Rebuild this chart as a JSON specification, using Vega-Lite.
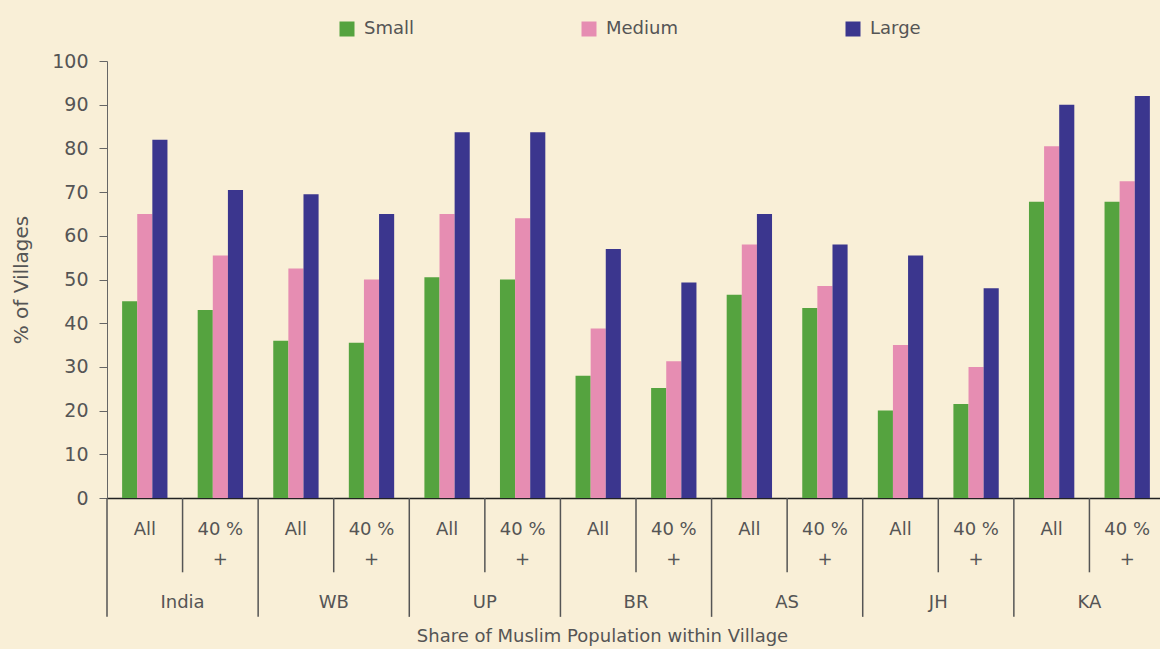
{
  "$schema": "https://vega.github.io/schema/vega-lite/v6.json",
  "autosize": "none",
  "padding": {"left": 107, "top": 61, "right": 0, "bottom": 151},
  "width": 1058,
  "height": 437,
  "background": "#f9efd7",
  "config": {
    "view": {"stroke": null},
    "axis": {"labelColor": "#555555", "titleColor": "#555555", "labelFont": "DejaVu Sans", "titleFont": "DejaVu Sans", "titleFontWeight": "normal"},
    "legend": {"labelColor": "#555555", "labelFont": "DejaVu Sans"}
  },
  "data": {
    "values": [
      {"state": "India", "grp": "India|All", "share": "All", "size": "Small", "value": 45},
      {"state": "India", "grp": "India|All", "share": "All", "size": "Medium", "value": 65},
      {"state": "India", "grp": "India|All", "share": "All", "size": "Large", "value": 82},
      {"state": "India", "grp": "India|40", "share": "40 %+", "size": "Small", "value": 43},
      {"state": "India", "grp": "India|40", "share": "40 %+", "size": "Medium", "value": 55.5},
      {"state": "India", "grp": "India|40", "share": "40 %+", "size": "Large", "value": 70.5},
      {"state": "WB", "grp": "WB|All", "share": "All", "size": "Small", "value": 36},
      {"state": "WB", "grp": "WB|All", "share": "All", "size": "Medium", "value": 52.5},
      {"state": "WB", "grp": "WB|All", "share": "All", "size": "Large", "value": 69.5},
      {"state": "WB", "grp": "WB|40", "share": "40 %+", "size": "Small", "value": 35.5},
      {"state": "WB", "grp": "WB|40", "share": "40 %+", "size": "Medium", "value": 50},
      {"state": "WB", "grp": "WB|40", "share": "40 %+", "size": "Large", "value": 65},
      {"state": "UP", "grp": "UP|All", "share": "All", "size": "Small", "value": 50.5},
      {"state": "UP", "grp": "UP|All", "share": "All", "size": "Medium", "value": 65},
      {"state": "UP", "grp": "UP|All", "share": "All", "size": "Large", "value": 83.7},
      {"state": "UP", "grp": "UP|40", "share": "40 %+", "size": "Small", "value": 50},
      {"state": "UP", "grp": "UP|40", "share": "40 %+", "size": "Medium", "value": 64},
      {"state": "UP", "grp": "UP|40", "share": "40 %+", "size": "Large", "value": 83.7},
      {"state": "BR", "grp": "BR|All", "share": "All", "size": "Small", "value": 28},
      {"state": "BR", "grp": "BR|All", "share": "All", "size": "Medium", "value": 38.8},
      {"state": "BR", "grp": "BR|All", "share": "All", "size": "Large", "value": 57},
      {"state": "BR", "grp": "BR|40", "share": "40 %+", "size": "Small", "value": 25.2},
      {"state": "BR", "grp": "BR|40", "share": "40 %+", "size": "Medium", "value": 31.3},
      {"state": "BR", "grp": "BR|40", "share": "40 %+", "size": "Large", "value": 49.3},
      {"state": "AS", "grp": "AS|All", "share": "All", "size": "Small", "value": 46.5},
      {"state": "AS", "grp": "AS|All", "share": "All", "size": "Medium", "value": 58},
      {"state": "AS", "grp": "AS|All", "share": "All", "size": "Large", "value": 65},
      {"state": "AS", "grp": "AS|40", "share": "40 %+", "size": "Small", "value": 43.5},
      {"state": "AS", "grp": "AS|40", "share": "40 %+", "size": "Medium", "value": 48.5},
      {"state": "AS", "grp": "AS|40", "share": "40 %+", "size": "Large", "value": 58},
      {"state": "JH", "grp": "JH|All", "share": "All", "size": "Small", "value": 20},
      {"state": "JH", "grp": "JH|All", "share": "All", "size": "Medium", "value": 35},
      {"state": "JH", "grp": "JH|All", "share": "All", "size": "Large", "value": 55.5},
      {"state": "JH", "grp": "JH|40", "share": "40 %+", "size": "Small", "value": 21.5},
      {"state": "JH", "grp": "JH|40", "share": "40 %+", "size": "Medium", "value": 30},
      {"state": "JH", "grp": "JH|40", "share": "40 %+", "size": "Large", "value": 48},
      {"state": "KA", "grp": "KA|All", "share": "All", "size": "Small", "value": 67.8},
      {"state": "KA", "grp": "KA|All", "share": "All", "size": "Medium", "value": 80.5},
      {"state": "KA", "grp": "KA|All", "share": "All", "size": "Large", "value": 90},
      {"state": "KA", "grp": "KA|40", "share": "40 %+", "size": "Small", "value": 67.8},
      {"state": "KA", "grp": "KA|40", "share": "40 %+", "size": "Medium", "value": 72.5},
      {"state": "KA", "grp": "KA|40", "share": "40 %+", "size": "Large", "value": 92}
    ]
  },
  "layer": [
    {
      "mark": {"type": "bar"},
      "encoding": {
        "y": {
          "field": "value",
          "type": "quantitative",
          "scale": {"domain": [0, 100], "nice": false},
          "axis": {"title": "% of Villages", "grid": false, "tickCount": 10, "labelFontSize": 19, "titleFontSize": 20, "tickSize": 8, "domainColor": "#666666", "tickColor": "#666666", "labelPadding": 11, "titlePadding": 20}
        },
        "x": {
          "field": "grp",
          "type": "nominal",
          "sort": null,
          "scale": {"paddingInner": 0, "paddingOuter": 0},
          "axis": {
            "title": "Share of Muslim Population within Village",
            "titleFontSize": 18,
            "titlePadding": 129,
            "titleX": 495,
            "labels": false,
            "ticks": false,
            "domainColor": "#222222",
            "domainWidth": 1.5
          }
        },
        "xOffset": {
          "field": "size",
          "type": "nominal",
          "sort": ["Small", "Medium", "Large"],
          "scale": {"paddingInner": 0, "paddingOuter": 1.02}
        },
        "color": {
          "field": "size",
          "type": "nominal",
          "sort": ["Small", "Medium", "Large"],
          "scale": {"domain": ["Small", "Medium", "Large"], "range": ["#55a33f", "#e68db2", "#3b368e"]},
          "legend": {
            "orient": "none",
            "legendX": 231,
            "legendY": -41,
            "direction": "horizontal",
            "title": null,
            "symbolType": "square",
            "symbolSize": 225,
            "symbolStrokeWidth": 0,
            "labelFontSize": 18,
            "labelOffset": 8,
            "columnPadding": 166
          }
        }
      }
    },
    {
      "transform": [{"filter": "datum.size == 'Small' && datum.share == 'All'"}],
      "mark": {"type": "rule", "color": "#555555", "strokeWidth": 1.5, "clip": false},
      "encoding": {
        "x": {"field": "grp", "type": "nominal", "sort": null, "bandPosition": 0},
        "y": {"datum": 0},
        "y2": {"datum": -27.2}
      }
    },
    {
      "transform": [{"filter": "datum.size == 'Small' && datum.share == '40 %+'"}],
      "mark": {"type": "rule", "color": "#555555", "strokeWidth": 1.5, "clip": false},
      "encoding": {
        "x": {"field": "grp", "type": "nominal", "sort": null, "bandPosition": 0},
        "y": {"datum": 0},
        "y2": {"datum": -17}
      }
    },
    {
      "transform": [{"filter": "datum.size == 'Small' && datum.share == 'All'"}],
      "mark": {"type": "text", "baseline": "top", "align": "center", "fontSize": 18, "color": "#555555", "font": "DejaVu Sans", "clip": false},
      "encoding": {
        "x": {"field": "grp", "type": "nominal", "sort": null},
        "y": {"datum": -5.3},
        "text": {"field": "share"}
      }
    },
    {
      "transform": [{"filter": "datum.size == 'Small' && datum.share == '40 %+'"}],
      "mark": {"type": "text", "baseline": "top", "align": "center", "fontSize": 18, "lineHeight": 30, "color": "#555555", "font": "DejaVu Sans", "clip": false, "text": ["40 %", "+"]},
      "encoding": {
        "x": {"field": "grp", "type": "nominal", "sort": null},
        "y": {"datum": -5.3}
      }
    },
    {
      "transform": [{"filter": "datum.size == 'Small' && datum.share == '40 %+'"}],
      "mark": {"type": "text", "baseline": "middle", "align": "center", "fontSize": 18, "color": "#555555", "font": "DejaVu Sans", "clip": false},
      "encoding": {
        "x": {"field": "grp", "type": "nominal", "sort": null, "bandPosition": 0},
        "y": {"datum": -24},
        "text": {"field": "state"}
      }
    }
  ]
}
